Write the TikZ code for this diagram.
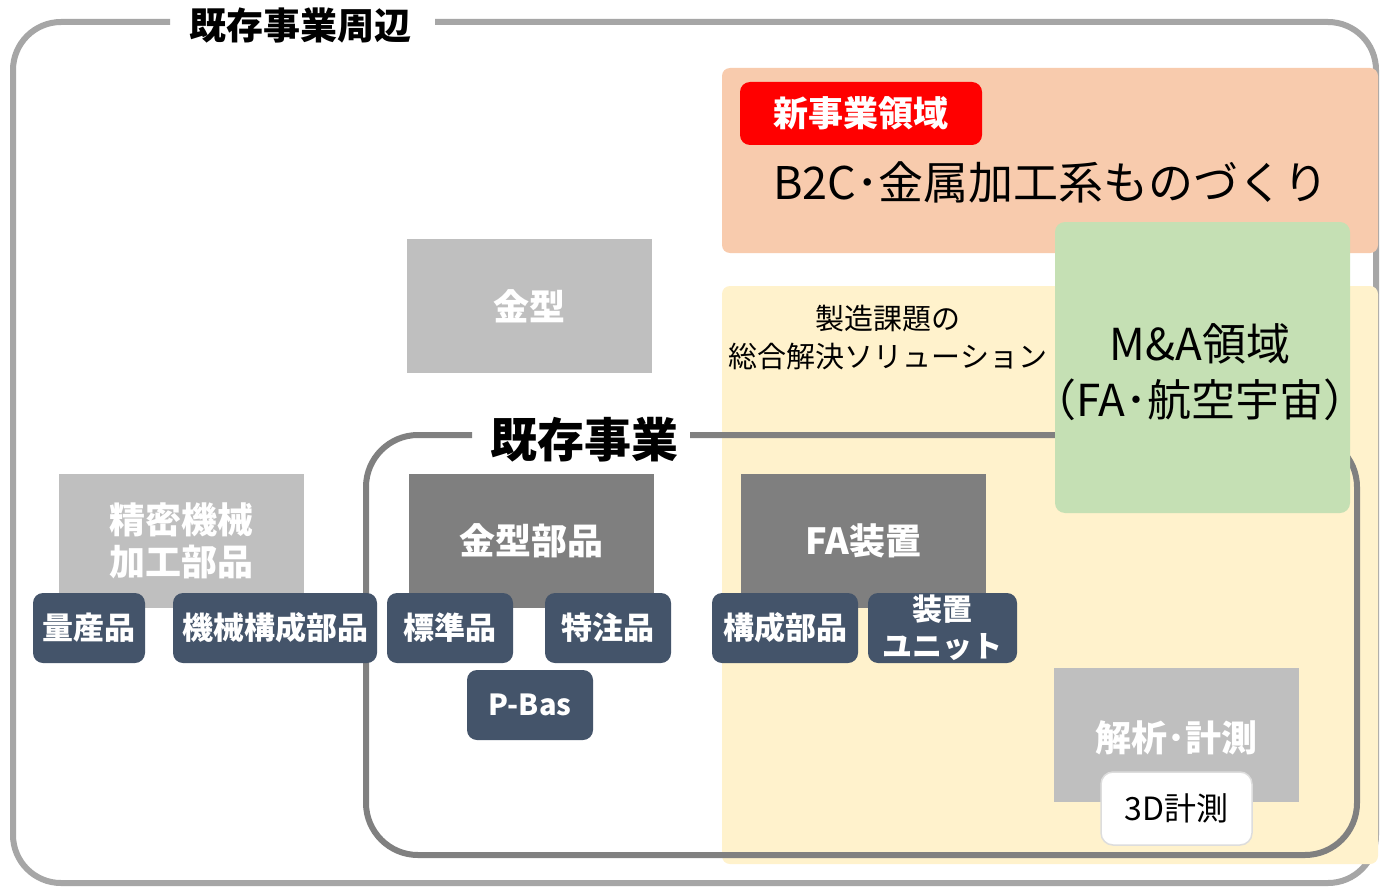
\documentclass[tikz,border=0pt]{standalone}
\usepackage{fontspec}
\setmainfont{Noto Sans CJK JP}
\usetikzlibrary{positioning}
\definecolor{outergray}{HTML}{A6A6A6}
\definecolor{peach}{HTML}{F8CBAD}
\definecolor{newred}{HTML}{FF0000}
\definecolor{paleyellow}{HTML}{FFF2CC}
\definecolor{palegreen}{HTML}{C5E0B4}
\definecolor{lightgraybox}{HTML}{BFBFBF}
\definecolor{midgraybox}{HTML}{7F7F7F}
\definecolor{navybox}{HTML}{44546A}
\definecolor{framegray}{HTML}{808080}
\definecolor{softborder}{HTML}{DDDDDD}
\tikzset{
  area/.style={rounded corners=8pt, inner sep=0pt},
  catbox/.style={inner sep=0pt, text=white, font=\bfseries\fontsize{36}{42}\selectfont, align=center},
  itembox/.style={fill=navybox, rounded corners=10pt, inner sep=0pt, text=white, font=\bfseries\fontsize{31}{36}\selectfont, align=center},
}
\begin{document}
\begin{tikzpicture}[x=1pt,y=-1pt]
\useasboundingbox (0,0) rectangle (1381,888);
\fill[white] (0,0) rectangle (1381,888);
% outer frame
\coordinate (oL) at (170,22);
\coordinate (oR) at (435,22);
\draw[outergray, line width=6pt, rounded corners=48pt] (oL) -- (13,22) -- (13,883) -- (1376,883) -- (1376,22) -- (oR);
\node[inner sep=0pt, font=\bfseries\fontsize{37}{42}\selectfont] (outertitle) at (300,25) {既存事業周辺};
% new business area
\node[area, fill=peach, minimum width=656pt, minimum height=185pt] (newarea) at (1050,160.5) {};
\node[fill=newred, rounded corners=10pt, inner sep=0pt, minimum width=242pt, minimum height=63pt, text=white, font=\bfseries\fontsize{35}{40}\selectfont] (newtag) at (861,113.5) {新事業領域};
\node[font=\fontsize{45}{50}\selectfont, inner sep=0pt] (b2c) at (1051,182) {B2C･金属加工系ものづくり};
% solution area
\node[area, fill=paleyellow, minimum width=656pt, minimum height=578pt] (solarea) at (1050,575) {};
\node[font=\fontsize{29}{38}\selectfont, align=center, inner sep=0pt] (soltext) at (888,338) {製造課題の\\総合解決ソリューション};
% existing business frame
\coordinate (eL) at (472,435);
\coordinate (eR) at (690,435);
\draw[framegray, line width=6pt, rounded corners=52pt] (eL) -- (366,435) -- (366,855) -- (1357,855) -- (1357,435) -- (eR);
\node[inner sep=0pt, font=\bfseries\fontsize{47}{52}\selectfont] (exttitle) at (584,440) {既存事業};
% M&A
\node[area, rounded corners=10pt, fill=palegreen, minimum width=295pt, minimum height=291pt] (ma) at (1202.5,367.5) {};
\node[font=\fontsize{44}{56}\selectfont, align=center, inner sep=0pt] (matext) at (1200,372) {M\&A領域\\（FA･航空宇宙）};
% gray category boxes
\node[catbox, fill=lightgraybox, minimum width=245pt, minimum height=134pt] (kanagata) at (529.5,306) {金型};
\node[catbox, fill=lightgraybox, minimum width=245pt, minimum height=134pt] (seimitsu) at (181.5,541) {精密機械\\加工部品};
\node[catbox, fill=midgraybox, minimum width=245pt, minimum height=134pt] (kanabu) at (531.5,541) {金型部品};
\node[catbox, fill=midgraybox, minimum width=245pt, minimum height=134pt] (fa) at (863.5,541) {FA装置};
\node[catbox, fill=lightgraybox, minimum width=245pt, minimum height=134pt] (kaiseki) at (1176.5,735) {};
\node[inner sep=0pt, text=white, font=\bfseries\fontsize{36}{40}\selectfont] (kaisekitext) at (1176.5,738) {解析･計測};
% item boxes
\node[itembox, minimum width=112pt, minimum height=70pt] (ryosan) at (89,628) {量産品};
\node[itembox, minimum width=204pt, minimum height=70pt] (kikai) at (275,628) {機械構成部品};
\node[itembox, minimum width=126pt, minimum height=70pt] (hyojun) at (450,628) {標準品};
\node[itembox, minimum width=126pt, minimum height=70pt] (tokuchu) at (608,628) {特注品};
\node[itembox, minimum width=126pt, minimum height=70pt, font=\bfseries\fontsize{29}{34}\selectfont] (pbas) at (530,705) {P-Bas};
\node[itembox, minimum width=146pt, minimum height=70pt] (kosei) at (785,628) {構成部品};
\node[itembox, minimum width=149pt, minimum height=70pt, font=\bfseries\fontsize{30}{37}\selectfont] (unit) at (942.5,628) {装置\\ユニット};
% 3D
\node[fill=white, draw=softborder, line width=1.5pt, rounded corners=12pt, minimum width=151pt, minimum height=73pt, inner sep=0pt, font=\fontsize{32}{36}\selectfont] (threed) at (1176.5,808.5) {3D計測};
\end{tikzpicture}
\end{document}
